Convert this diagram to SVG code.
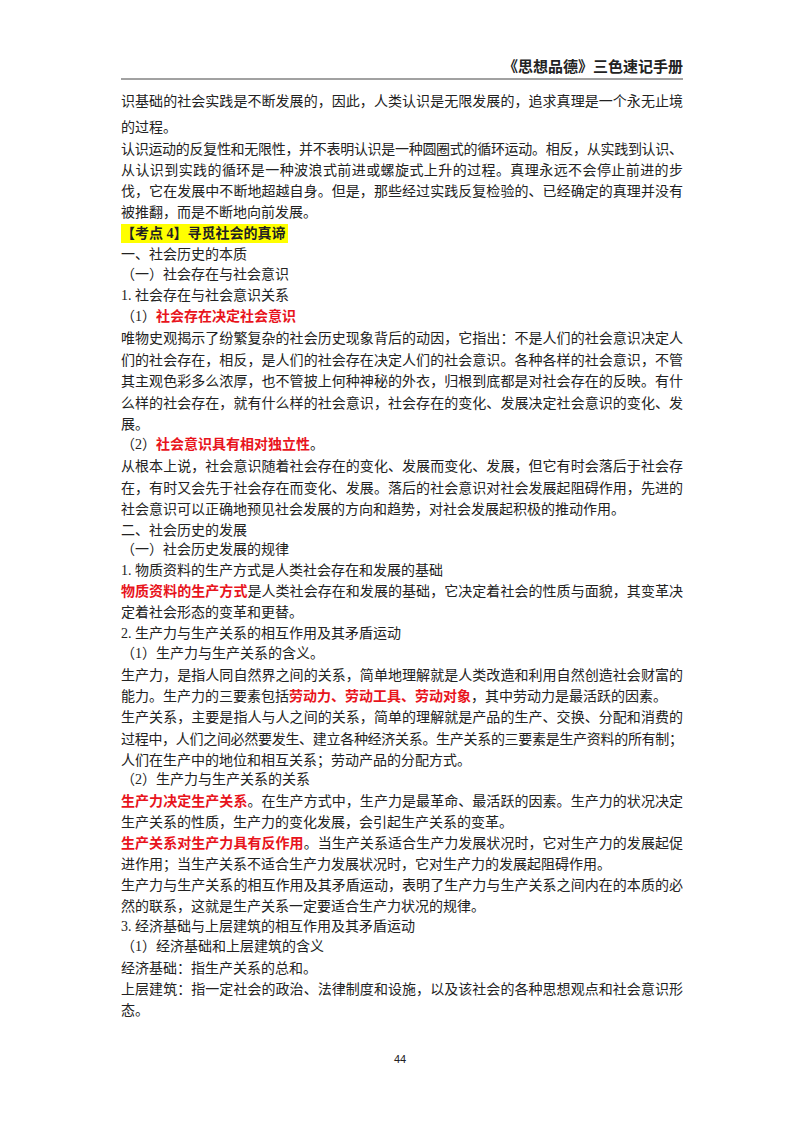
<svg xmlns="http://www.w3.org/2000/svg" width="800" height="1132" viewBox="0 0 800 1132">
<style>
text{font-family:"Liberation Serif","Noto Sans CJK SC",serif;font-size:14px;fill:#222}
.r{fill:#e8141c;font-weight:bold}
.b{font-weight:bold}
.f{}
</style>
<rect width="800" height="1132" fill="#fff"/>
<g id="header">
<text x="683" y="72" text-anchor="end" class="b" style="font-size:15px">《思想品德》三色速记手册</text>
<line x1="121" y1="79" x2="683" y2="79" stroke="#444" stroke-width="1"/>
</g>
<rect x="121" y="224" width="167" height="19" fill="#ffff00"/>
<g id="body">
<text x="121" y="106" textLength="562" lengthAdjust="spacing">识基础的社会实践是不断发展的，因此，人类认识是无限发展的，追求真理是一个永无止境</text>
<text x="121" y="132">的过程。</text>
<text x="121" y="154" textLength="562" lengthAdjust="spacing">认识运动的反复性和无限性，并不表明认识是一种圆圈式的循环运动。相反，从实践到认识、</text>
<text x="121" y="175" textLength="562" lengthAdjust="spacing">从认识到实践的循环是一种波浪式前进或螺旋式上升的过程。真理永远不会停止前进的步</text>
<text x="121" y="196" textLength="562" lengthAdjust="spacing">伐，它在发展中不断地超越自身。但是，那些经过实践反复检验的、已经确定的真理并没有</text>
<text x="121" y="217">被推翻，而是不断地向前发展。</text>
<text x="121" y="238" class="b">【考点 4】寻觅社会的真谛</text>
<text x="121" y="259">一、社会历史的本质</text>
<text x="121" y="279">（一）社会存在与社会意识</text>
<text x="121" y="300">1. 社会存在与社会意识关系</text>
<text x="121" y="321">（1）<tspan class="r">社会存在决定社会意识</tspan></text>
<text x="121" y="343" textLength="562" lengthAdjust="spacing">唯物史观揭示了纷繁复杂的社会历史现象背后的动因，它指出：不是人们的社会意识决定人</text>
<text x="121" y="365" textLength="562" lengthAdjust="spacing">们的社会存在，相反，是人们的社会存在决定人们的社会意识。各种各样的社会意识，不管</text>
<text x="121" y="386" textLength="562" lengthAdjust="spacing">其主观色彩多么浓厚，也不管披上何种神秘的外衣，归根到底都是对社会存在的反映。有什</text>
<text x="121" y="408" textLength="562" lengthAdjust="spacing">么样的社会存在，就有什么样的社会意识，社会存在的变化、发展决定社会意识的变化、发</text>
<text x="121" y="429">展。</text>
<text x="121" y="449">（2）<tspan class="r">社会意识具有相对独立性</tspan>。</text>
<text x="121" y="471" textLength="562" lengthAdjust="spacing">从根本上说，社会意识随着社会存在的变化、发展而变化、发展，但它有时会落后于社会存</text>
<text x="121" y="493" textLength="562" lengthAdjust="spacing">在，有时又会先于社会存在而变化、发展。落后的社会意识对社会发展起阻碍作用，先进的</text>
<text x="121" y="514">社会意识可以正确地预见社会发展的方向和趋势，对社会发展起积极的推动作用。</text>
<text x="121" y="535">二、社会历史的发展</text>
<text x="121" y="554">（一）社会历史发展的规律</text>
<text x="121" y="575">1. 物质资料的生产方式是人类社会存在和发展的基础</text>
<text x="121" y="596" textLength="562" lengthAdjust="spacing"><tspan class="r">物质资料的生产方式</tspan>是人类社会存在和发展的基础，它决定着社会的性质与面貌，其变革决</text>
<text x="121" y="617">定着社会形态的变革和更替。</text>
<text x="121" y="638">2. 生产力与生产关系的相互作用及其矛盾运动</text>
<text x="121" y="658">（1）生产力与生产关系的含义。</text>
<text x="121" y="680" textLength="562" lengthAdjust="spacing">生产力，是指人同自然界之间的关系，简单地理解就是人类改造和利用自然创造社会财富的</text>
<text x="121" y="701">能力。生产力的三要素包括<tspan class="r">劳动力、劳动工具、劳动对象</tspan>，其中劳动力是最活跃的因素。</text>
<text x="121" y="722" textLength="562" lengthAdjust="spacing">生产关系，主要是指人与人之间的关系，简单的理解就是产品的生产、交换、分配和消费的</text>
<text x="121" y="744" textLength="562" lengthAdjust="spacing">过程中，人们之间必然要发生、建立各种经济关系。生产关系的三要素是生产资料的所有制；</text>
<text x="121" y="765">人们在生产中的地位和相互关系；劳动产品的分配方式。</text>
<text x="121" y="784">（2）生产力与生产关系的关系</text>
<text x="121" y="806" textLength="562" lengthAdjust="spacing"><tspan class="r">生产力决定生产关系</tspan>。在生产方式中，生产力是最革命、最活跃的因素。生产力的状况决定</text>
<text x="121" y="827">生产关系的性质，生产力的变化发展，会引起生产关系的变革。</text>
<text x="121" y="848" textLength="562" lengthAdjust="spacing"><tspan class="r">生产关系对生产力具有反作用</tspan>。当生产关系适合生产力发展状况时，它对生产力的发展起促</text>
<text x="121" y="869">进作用；当生产关系不适合生产力发展状况时，它对生产力的发展起阻碍作用。</text>
<text x="121" y="890" textLength="562" lengthAdjust="spacing">生产力与生产关系的相互作用及其矛盾运动，表明了生产力与生产关系之间内在的本质的必</text>
<text x="121" y="911">然的联系，这就是生产关系一定要适合生产力状况的规律。</text>
<text x="121" y="931">3. 经济基础与上层建筑的相互作用及其矛盾运动</text>
<text x="121" y="951">（1）经济基础和上层建筑的含义</text>
<text x="121" y="973">经济基础：指生产关系的总和。</text>
<text x="121" y="994" textLength="562" lengthAdjust="spacing">上层建筑：指一定社会的政治、法律制度和设施，以及该社会的各种思想观点和社会意识形</text>
<text x="121" y="1015">态。</text>
</g>
<text x="400" y="1063" text-anchor="middle" style="font-family:'Liberation Sans',sans-serif;font-size:11px">44</text>
</svg>
